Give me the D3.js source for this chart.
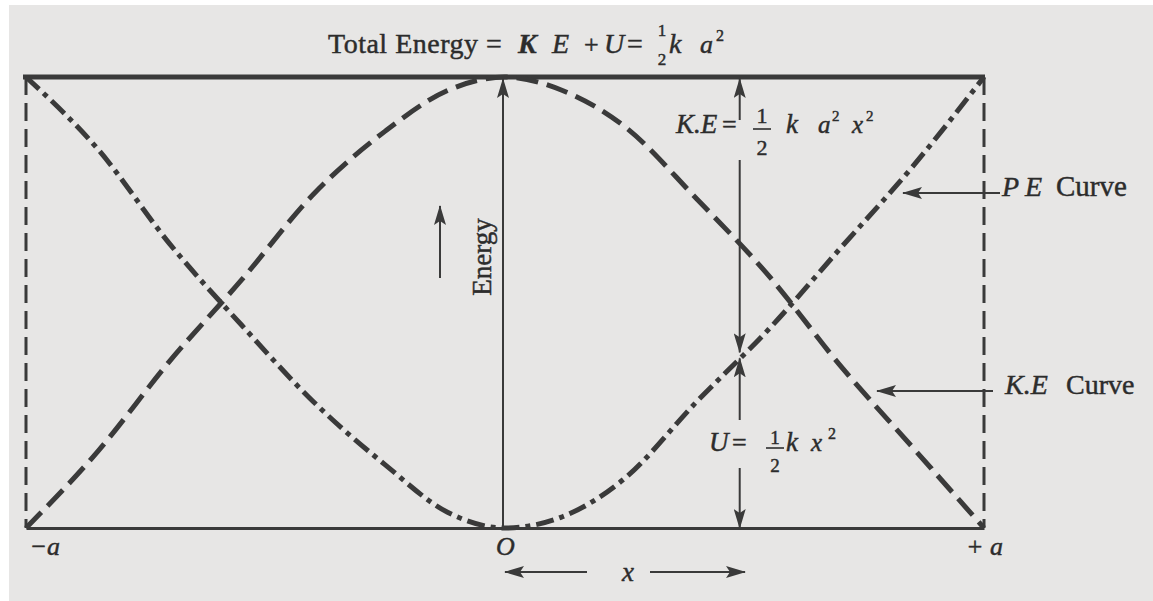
<!DOCTYPE html>
<html>
<head>
<meta charset="utf-8">
<script src="https://cdn.jsdelivr.net/npm/d3@7"></script>
<style>
  html, body { margin: 0; padding: 0; background: #fff; }
  svg { display: block; }
  text { font-family: 'Liberation Serif', 'DejaVu Serif', serif; fill: #2c2c2c; stroke: #2c2c2c; stroke-width: 0.45px; }
</style>
</head>
<body>
<svg id="chart"></svg>
<script>
// displacement from -a to +a (in units of a), energies in units of (1/2) k a^2
const positions = [-1, -0.85, -0.7, -0.55, -0.4, -0.25, -0.12, 0, 0.12, 0.25, 0.4, 0.55, 0.7, 0.85, 1]
const keValues = [0, 0.17, 0.37, 0.55, 0.74, 0.88, 0.97, 1, 0.97, 0.89, 0.73, 0.56, 0.36, 0.18, 0]
const peValues = [1, 0.84, 0.63, 0.45, 0.28, 0.14, 0.035, 0, 0.025, 0.11, 0.28, 0.44, 0.62, 0.8, 1]

const tickPositions = [-1, 0, 1]
const tickLabels = ['\u2212a', 'O', '+ a']

// position of the measuring arrows and the PE value they meet at
const markPosition = 0.49
const peAtMark = 0.385

const W = 1153
const H = 601
const ink = '#3a3a3a'

const svg = d3.select('#chart').attr('width', W).attr('height', H)

svg
  .append('rect')
  .attr('x', 9)
  .attr('y', 5)
  .attr('width', W - 9)
  .attr('height', H - 5)
  .attr('fill', '#e7e6e5')

const defs = svg.append('defs')
defs
  .append('marker')
  .attr('id', 'head')
  .attr('viewBox', '0 0 20 12')
  .attr('refX', 19)
  .attr('refY', 6)
  .attr('markerWidth', 20)
  .attr('markerHeight', 12)
  .attr('markerUnits', 'userSpaceOnUse')
  .attr('orient', 'auto')
  .append('path')
  .attr('d', 'M0,0 L20,6 L0,12 L4,6 Z')
  .attr('fill', ink)

const x = d3.scaleLinear().domain([-1, 1]).range([26, 984])
const y = d3.scaleLinear().domain([0, 1]).range([528, 77])

const line = d3
  .line()
  .x(d => x(d.pos))
  .y(d => y(d.value))
  .curve(d3.curveMonotoneX)

const keData = positions.map((p, i) => ({ pos: p, value: keValues[i] }))
const peData = positions.map((p, i) => ({ pos: p, value: peValues[i] }))

// side dashed lines at -a and +a
svg
  .append('g')
  .selectAll('line')
  .data([-1, 1])
  .join('line')
  .attr('x1', d => x(d))
  .attr('x2', d => x(d))
  .attr('y1', y(1))
  .attr('y2', y(0))
  .attr('stroke', ink)
  .attr('stroke-width', 3)
  .attr('stroke-dasharray', '18 8')

// x axis (bottom line + labels)
const xAxis = svg
  .append('g')
  .attr('transform', `translate(0, ${y(0)})`)
  .call(
    d3
      .axisBottom(x)
      .tickValues(tickPositions)
      .tickFormat((d, i) => tickLabels[i])
      .tickSize(0)
      .tickSizeOuter(0)
      .tickPadding(9)
  )

xAxis.select('.domain').attr('stroke', ink).attr('stroke-width', 3)
xAxis
  .selectAll('text')
  .style('font-size', '26px')
  .style('font-style', 'italic')
  .style('font-family', "'Liberation Serif', serif")
  .attr('fill', '#2c2c2c')
xAxis
  .selectAll('.tick text')
  .filter((d, i) => i === 0)
  .attr('text-anchor', 'start')
  .attr('dx', 3)

// total energy line
svg
  .append('line')
  .attr('x1', x(-1) - 3)
  .attr('x2', x(1) + 1)
  .attr('y1', y(1))
  .attr('y2', y(1))
  .attr('stroke', ink)
  .attr('stroke-width', 5)

// curves
svg
  .append('path')
  .datum(keData)
  .attr('d', line)
  .attr('fill', 'none')
  .attr('stroke', ink)
  .attr('stroke-width', 5)
  .attr('stroke-dasharray', '22 9')

svg
  .append('path')
  .datum(peData)
  .attr('d', line)
  .attr('fill', 'none')
  .attr('stroke', ink)
  .attr('stroke-width', 5)
  .attr('stroke-dasharray', '18 6 5 6')

// energy axis through O
const arrow = (x1, y1, x2, y2, w = 2) =>
  svg
    .append('line')
    .attr('x1', x1)
    .attr('y1', y1)
    .attr('x2', x2)
    .attr('y2', y2)
    .attr('stroke', ink)
    .attr('stroke-width', w)
    .attr('marker-end', 'url(#head)')

arrow(x(0) - 2, y(0), x(0) - 2, y(1) + 2)

svg
  .append('text')
  .attr('transform', `translate(${x(0) - 14}, 257) rotate(-90)`)
  .attr('text-anchor', 'middle')
  .style('font-size', '27px')
  .text('Energy')

arrow(440, 278, 440, 206)

// measuring arrows at x = markPosition
const mx = x(markPosition)
const my = y(peAtMark)
arrow(mx, 120, mx, y(1) + 2)
arrow(mx, 160, mx, my - 2)
arrow(mx, 420, mx, my + 4)
arrow(mx, 468, mx, y(0))

// label pointers
arrow(1000, 193, 903, 193)
arrow(993, 391, 877, 391)
arrow(587, 572, 505, 572)
arrow(650, 572, 745, 572)

// text helpers
const txt = (str, tx, ty, size, opts = {}) =>
  svg
    .append('text')
    .attr('x', tx)
    .attr('y', ty)
    .attr('text-anchor', opts.anchor || 'start')
    .style('font-size', `${size}px`)
    .style('font-style', opts.italic ? 'italic' : 'normal')
    .style('font-weight', opts.bold ? 'bold' : 'normal')
    .text(str)

const fraction = (cx, topY, botY, size, barY) => {
  txt('1', cx, topY, size, { anchor: 'middle' })
  txt('2', cx, botY, size, { anchor: 'middle' })
  if (barY)
    svg
      .append('line')
      .attr('x1', cx - 9)
      .attr('x2', cx + 9)
      .attr('y1', barY)
      .attr('y2', barY)
      .attr('stroke', '#2c2c2c')
      .attr('stroke-width', 1.6)
}

// title
txt('Total Energy', 328, 53, 28).attr('textLength', 150)
txt('=', 486, 53, 28)
txt('K', 518, 53, 28, { italic: true, bold: true })
txt('E', 552, 53, 28, { italic: true })
txt('+', 584, 53, 26)
txt('U', 604, 53, 28, { italic: true })
txt('=', 627, 53, 28)
fraction(662, 36, 65, 17)
txt('k', 669, 53, 28, { italic: true })
txt('a', 700, 53, 26, { italic: true })
txt('2', 716, 41, 16)

// K.E label
txt('K.E', 676, 133, 27, { italic: true })
txt('=', 722, 133, 26)
fraction(762, 123, 155, 22, 129)
txt('k', 786, 133, 27, { italic: true })
txt('a', 818, 133, 25, { italic: true })
txt('2', 832, 121, 15)
txt('x', 852, 133, 25, { italic: true })
txt('2', 866, 121, 15)

// U label
txt('U', 709, 451, 27, { italic: true })
txt('=', 732, 451, 26)
fraction(775, 444, 472, 19, 448)
txt('k', 786, 451, 27, { italic: true })
txt('x', 811, 451, 25, { italic: true })
txt('2', 828, 439, 16)

// curve labels
txt('P', 1002, 196, 28, { italic: true })
txt('E', 1025, 196, 28, { italic: true })
txt('Curve', 1056, 196, 29)
txt('K.E', 1005, 394, 28, { italic: true })
txt('Curve', 1066, 394, 28)

// x label
txt('x', 622, 581, 27, { italic: true })
</script>
</body>
</html>
